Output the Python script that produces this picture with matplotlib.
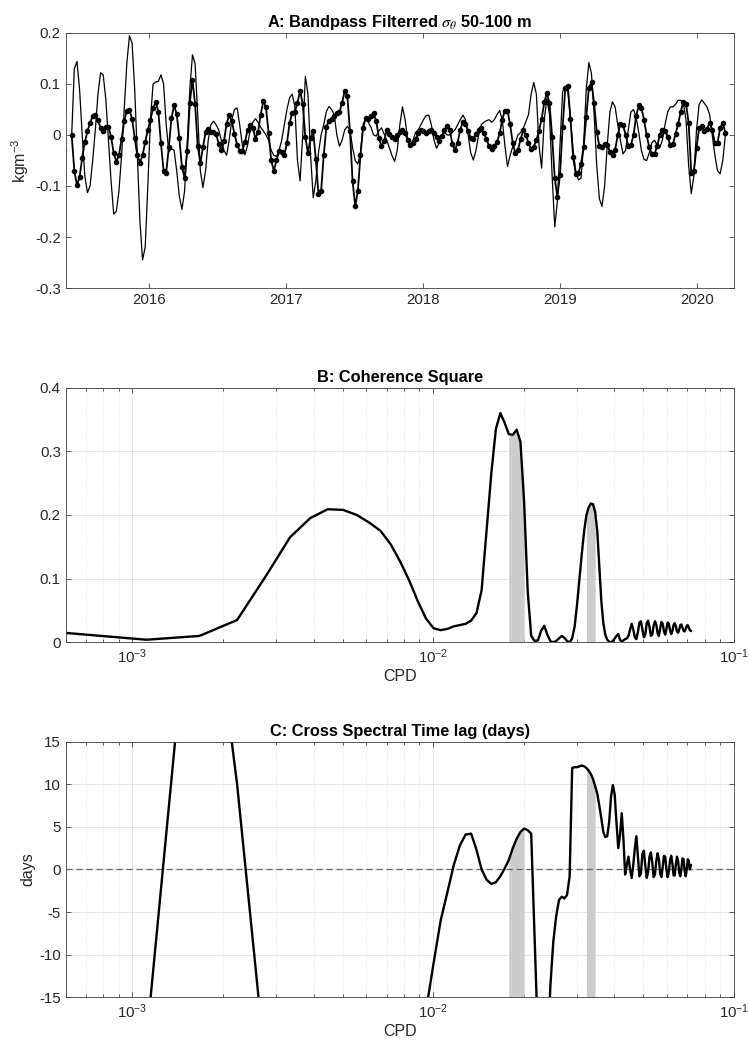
import numpy as np
import pandas as pd
import matplotlib

matplotlib.use("Agg")
import matplotlib.pyplot as plt
import matplotlib.dates as mdates

plt.rcParams["font.family"] = ["Liberation Sans", "DejaVu Sans"]
plt.rcParams["mathtext.fontset"] = "custom"
plt.rcParams["mathtext.rm"] = "Liberation Sans"
plt.rcParams["mathtext.it"] = "Liberation Sans:italic"
plt.rcParams["mathtext.bf"] = "Liberation Sans:bold"
plt.rcParams["axes.unicode_minus"] = False

# --- panel A: weekly band-passed sigma-theta (kg m^-3) ---
start_date = "2015-06-09"
sigma_dots = [
    0.000, -0.070, -0.098, -0.083, -0.045, -0.014, 0.007, 0.024, 0.037, 0.040,
    0.029, 0.014, 0.007, 0.015, 0.016, -0.004, -0.035, -0.052, -0.040, -0.008,
    0.027, 0.048, 0.049, 0.032, -0.006, -0.040, -0.054, -0.040, -0.014, 0.010,
    0.030, 0.052, 0.065, 0.046, -0.016, -0.070, -0.074, -0.024, 0.033, 0.058,
    0.041, -0.006, -0.063, -0.084, -0.031, 0.063, 0.108, 0.061, -0.022, -0.055,
    -0.024, 0.006, 0.012, 0.006, 0.005, 0.002, -0.017, -0.030, -0.012, 0.022,
    0.039, 0.027, 0.002, -0.019, -0.031, -0.031, -0.014, 0.010, 0.019, 0.014,
    -0.007, 0.006, 0.040, 0.067, 0.054, 0.004, -0.050, -0.070, -0.050, -0.031,
    -0.033, -0.039, -0.016, 0.024, 0.043, 0.046, 0.063, 0.086, 0.061, -0.004,
    -0.035, -0.006, 0.007, -0.048, -0.116, -0.110, -0.040, 0.015, 0.028, 0.032,
    0.038, 0.043, 0.045, 0.063, 0.087, 0.076, 0.007, -0.091, -0.140, -0.110,
    -0.039, 0.014, 0.033, 0.031, 0.038, 0.043, 0.027, -0.005, -0.022, -0.012,
    0.010, 0.002, -0.003, -0.008, -0.001, 0.006, 0.010, 0.003, -0.010, -0.020,
    -0.016, -0.008, 0.003, 0.010, 0.007, 0.003, 0.007, 0.010, 0.004, -0.004,
    -0.012, -0.002, 0.010, 0.018, 0.010, -0.018, -0.029, -0.015, 0.010, 0.026,
    0.022, 0.008, -0.006, -0.008, 0.002, 0.010, 0.013, 0.004, -0.008, -0.022,
    -0.028, -0.022, -0.014, 0.003, 0.030, 0.048, 0.048, 0.021, -0.016, -0.036,
    -0.029, -0.008, 0.009, 0.000, -0.016, -0.028, -0.023, -0.010, 0.008, 0.031,
    0.064, 0.083, 0.062, -0.003, -0.085, -0.121, -0.078, 0.015, 0.092, 0.096,
    0.031, -0.044, -0.077, -0.075, -0.057, -0.023, 0.035, 0.093, 0.103, 0.062,
    0.006, -0.022, -0.024, -0.017, -0.019, -0.033, -0.040, -0.029, 0.000, 0.022,
    0.020, 0.000, -0.022, -0.020, 0.000, 0.037, 0.058, 0.053, 0.030, 0.000,
    -0.024, -0.037, -0.037, -0.022, 0.000, 0.010, 0.008, -0.003, -0.020, -0.018,
    0.002, 0.022, 0.046, 0.065, 0.061, 0.024, -0.075, -0.070, -0.025, 0.014,
    0.018, 0.007, 0.012, 0.024, 0.010, -0.016, -0.016, 0.014, 0.024, 0.004,
]
sigma_line = [
    0.000, 0.130, 0.144, 0.090, 0.000, -0.080, -0.113, -0.100, -0.050, 0.010,
    0.080, 0.122, 0.118, 0.070, -0.010, -0.090, -0.155, -0.150, -0.110, -0.040,
    0.050, 0.140, 0.195, 0.180, 0.090, -0.040, -0.170, -0.245, -0.220, -0.100,
    0.030, 0.100, 0.104, 0.105, 0.118, 0.100, 0.020, -0.033, -0.027, -0.030,
    -0.070, -0.120, -0.146, -0.110, -0.020, 0.090, 0.157, 0.140, 0.040, -0.070,
    -0.103, -0.070, -0.010, 0.020, 0.027, 0.020, 0.010, -0.010, -0.030, -0.040,
    -0.010, 0.030, 0.050, 0.053, 0.020, -0.020, -0.039, -0.020, 0.010, 0.025,
    0.032, 0.025, 0.015, 0.008, 0.000, -0.010, -0.030, -0.040, -0.042, -0.030,
    -0.010, 0.020, 0.050, 0.073, 0.080, 0.056, -0.050, -0.090, 0.000, 0.115,
    0.080, -0.040, -0.123, -0.090, -0.035, 0.000, 0.020, 0.046, 0.056, 0.050,
    0.040, 0.000, -0.022, -0.010, 0.010, 0.017, 0.010, -0.025, -0.050, -0.057,
    -0.035, 0.020, 0.033, 0.025, 0.015, 0.000, -0.002, 0.008, 0.014, 0.002,
    -0.010, -0.025, -0.040, -0.052, -0.030, 0.020, 0.055, 0.030, -0.010, -0.023,
    -0.010, 0.005, 0.010, 0.020, 0.030, 0.038, 0.039, 0.020, -0.010, -0.026,
    -0.015, 0.000, 0.005, 0.000, 0.000, 0.005, 0.010, 0.020, 0.030, 0.039,
    0.030, 0.000, -0.035, -0.049, -0.030, 0.000, 0.020, 0.025, 0.028, 0.030,
    0.025, 0.030, 0.040, 0.048, 0.030, -0.020, -0.062, -0.040, -0.023, -0.015,
    0.000, 0.005, 0.013, 0.026, 0.040, 0.080, 0.103, 0.080, -0.020, -0.065,
    0.030, 0.072, 0.040, -0.080, -0.180, -0.130, -0.020, 0.085, 0.095, 0.085,
    0.030, -0.030, -0.070, -0.088, -0.085, -0.020, 0.090, 0.142, 0.120, 0.040,
    -0.060, -0.125, -0.140, -0.100, -0.020, 0.045, 0.065, 0.055, 0.020, -0.010,
    -0.037, -0.030, 0.010, 0.045, 0.050, 0.035, 0.005, -0.030, -0.048, -0.050,
    -0.035, -0.015, -0.010, -0.020, -0.025, -0.010, 0.020, 0.045, 0.055, 0.055,
    0.060, 0.068, 0.068, 0.062, 0.030, -0.060, -0.115, -0.080, 0.010, 0.060,
    0.069, 0.062, 0.055, 0.040, 0.000, -0.040, -0.070, -0.076, -0.050, 0.000,
]

# --- panels B and C: cross-spectrum on the harmonic grid (df ~ 1/1795 cpd) ---
freq_step = 1 / 1795
coherence = [
    0.016, 0.004, 0.010, 0.035, 0.105, 0.165, 0.195, 0.209, 0.208, 0.200,
    0.188, 0.175, 0.153, 0.125, 0.095, 0.063, 0.037, 0.022, 0.019, 0.021,
    0.025, 0.027, 0.029, 0.034, 0.046, 0.082, 0.175, 0.265, 0.335, 0.360,
    0.345, 0.327, 0.326, 0.334, 0.315, 0.220, 0.080, 0.010, 0.002, 0.003,
    0.018, 0.026, 0.012, 0.002, 0.000, 0.002, 0.006, 0.010, 0.007, 0.002,
    0.000, 0.006, 0.025, 0.060, 0.100, 0.140, 0.175, 0.200, 0.212, 0.218,
    0.217, 0.205, 0.175, 0.120, 0.065, 0.030, 0.012, 0.004, 0.001, 0.000,
    0.002, 0.006, 0.010, 0.013, 0.004, 0.001, 0.003, 0.005, 0.006, 0.010,
    0.020, 0.029, 0.020, 0.008, 0.005, 0.016, 0.031, 0.033, 0.020, 0.008,
    0.012, 0.030, 0.034, 0.024, 0.010, 0.012, 0.026, 0.033, 0.028, 0.014,
    0.010, 0.022, 0.032, 0.029, 0.017, 0.012, 0.021, 0.031, 0.029, 0.019,
    0.013, 0.018, 0.027, 0.030, 0.025, 0.017, 0.015, 0.020, 0.027, 0.028,
    0.023, 0.018, 0.017, 0.021, 0.026, 0.027, 0.023, 0.019, 0.018,
]
lag_days = [
    -60.0, -20.0, 45.0, 10.0, -24.0, -40.0, -45.0, -45.0, -45.0, -45.0,
    -45.0, -45.0, -40.0, -35.0, -30.0, -22.0, -16.5, -11.0, -6.0, -2.7,
    0.5, 2.8, 4.1, 4.2, 2.3, 0.0, -1.2, -1.7, -1.5, -0.8,
    0.1, 1.1, 2.5, 3.6, 4.4, 4.8, 4.6, 4.2, -8.0, -20.0,
    -30.0, -30.0, -22.0, -13.7, -8.5, -5.5, -3.6, -3.2, -3.4, -3.0,
    -0.8, 11.9, 12.0, 12.0, 12.1, 12.2, 12.1, 11.9, 11.6, 11.2,
    10.6, 9.8, 8.9, 7.5, 6.0, 4.4, 3.8, 3.9, 5.5, 8.5,
    9.9, 8.8, 5.5, 2.5, 4.0, 6.6, 3.5, -0.6, 0.5, 1.5,
    0.0, -1.0, 0.5, 2.5, 3.9, 1.5, -0.8, -0.5, 1.8, 2.2,
    0.5, -1.0, -0.3, 1.5, 2.0, 0.8, -0.9, -0.6, 1.0, 1.9,
    1.2, -0.5, -0.9, 0.3, 1.6, 1.5, 0.0, -0.9, -0.3, 1.1,
    1.6, 0.7, -0.7, -0.7, 0.6, 1.5, 1.0, -0.4, -0.8, 0.1,
    1.3, 1.2, -0.2, -0.8, 0.0, 1.2, 1.0, 0.0, 0.5,
]
# shaded bands, as harmonic numbers (first, last)
bands = [(32, 36), (58, 62)]

dates = pd.date_range(start_date, periods=len(sigma_dots), freq="7D")
freq = freq_step * np.arange(1, len(coherence) + 1)
coh = np.array(coherence)
lag = np.array(lag_days)

TXT = "#262626"
LW_BOX = 0.6
TICK_FS = 10.8
LABEL_FS = 11.5
TITLE_FS = 11.8


def style_axes(ax):
    for s in ax.spines.values():
        s.set_color("0.25")
        s.set_linewidth(LW_BOX)
    ax.tick_params(which="both", direction="in", top=True, right=True,
                   colors="0.25", labelcolor=TXT, labelsize=TICK_FS, width=LW_BOX)
    ax.tick_params(which="major", length=3.8)
    ax.tick_params(which="minor", length=2)


def spectral_grid(ax):
    ax.set_xscale("log")
    ax.set_xlim(6e-4, 1e-1)
    ax.grid(True, which="major", color="0.88", lw=0.6)
    ax.grid(True, which="minor", color="0.85", lw=0.5, ls=":")
    ax.set_axisbelow(True)
    ax.set_xlabel("CPD", fontsize=LABEL_FS, color=TXT, labelpad=2)


fig = plt.figure(figsize=(7.49, 10.5), dpi=100)

# A
ax = fig.add_axes([0.0877, 0.7257, 0.8923, 0.2429])
ax.plot(dates, sigma_line, color="black", lw=0.9)
ax.plot(dates, sigma_dots, color="black", lw=1.3, marker="o", ms=3.0)
ax.set_xlim(pd.Timestamp("2015-05-24"), pd.Timestamp("2020-04-09"))
ax.set_ylim(-0.3, 0.2)
ax.set_yticks([-0.3, -0.2, -0.1, 0, 0.1, 0.2])
ax.set_yticklabels(["-0.3", "-0.2", "-0.1", "0", "0.1", "0.2"])
ax.xaxis.set_major_locator(mdates.YearLocator())
ax.xaxis.set_major_formatter(mdates.DateFormatter("%Y"))
ax.set_ylabel("kgm$^{-3}$", fontsize=LABEL_FS, color=TXT, labelpad=3)
ax.set_title(r"A: Bandpass Filterred $\sigma_\theta$ 50-100 m", fontsize=TITLE_FS,
             fontweight="bold", color="black", pad=4, math_fontfamily="stix")
style_axes(ax)

# B
ax = fig.add_axes([0.0877, 0.3883, 0.8923, 0.2425])
spectral_grid(ax)
for i0, i1 in bands:
    ax.fill_between(freq[i0 - 1:i1], 0, coh[i0 - 1:i1], color="0.8", lw=0)
ax.plot(freq, coh, color="black", lw=1.7)
ax.set_ylim(0, 0.4)
ax.set_yticks([0, 0.1, 0.2, 0.3, 0.4])
ax.set_yticklabels(["0", "0.1", "0.2", "0.3", "0.4"])
ax.set_title("B: Coherence Square", fontsize=TITLE_FS, fontweight="bold", pad=4)
style_axes(ax)

# C
ax = fig.add_axes([0.0877, 0.0502, 0.8923, 0.2435])
spectral_grid(ax)
for i0, i1 in bands:
    ax.fill_between(freq[i0 - 1:i1], -15, lag[i0 - 1:i1], color="0.8", lw=0)
ax.axhline(0, color="0.4", lw=0.9, ls=(0, (5, 3)))
ax.plot(freq, lag, color="black", lw=1.7)
ax.set_ylim(-15, 15)
ax.set_yticks(range(-15, 16, 5))
ax.set_yticklabels([str(v) for v in range(-15, 16, 5)])
ax.set_ylabel("days", fontsize=LABEL_FS, color=TXT, labelpad=3)
ax.set_title("C: Cross Spectral Time lag (days)", fontsize=TITLE_FS,
             fontweight="bold", pad=4)
style_axes(ax)

fig.savefig("out.png", dpi=100)
